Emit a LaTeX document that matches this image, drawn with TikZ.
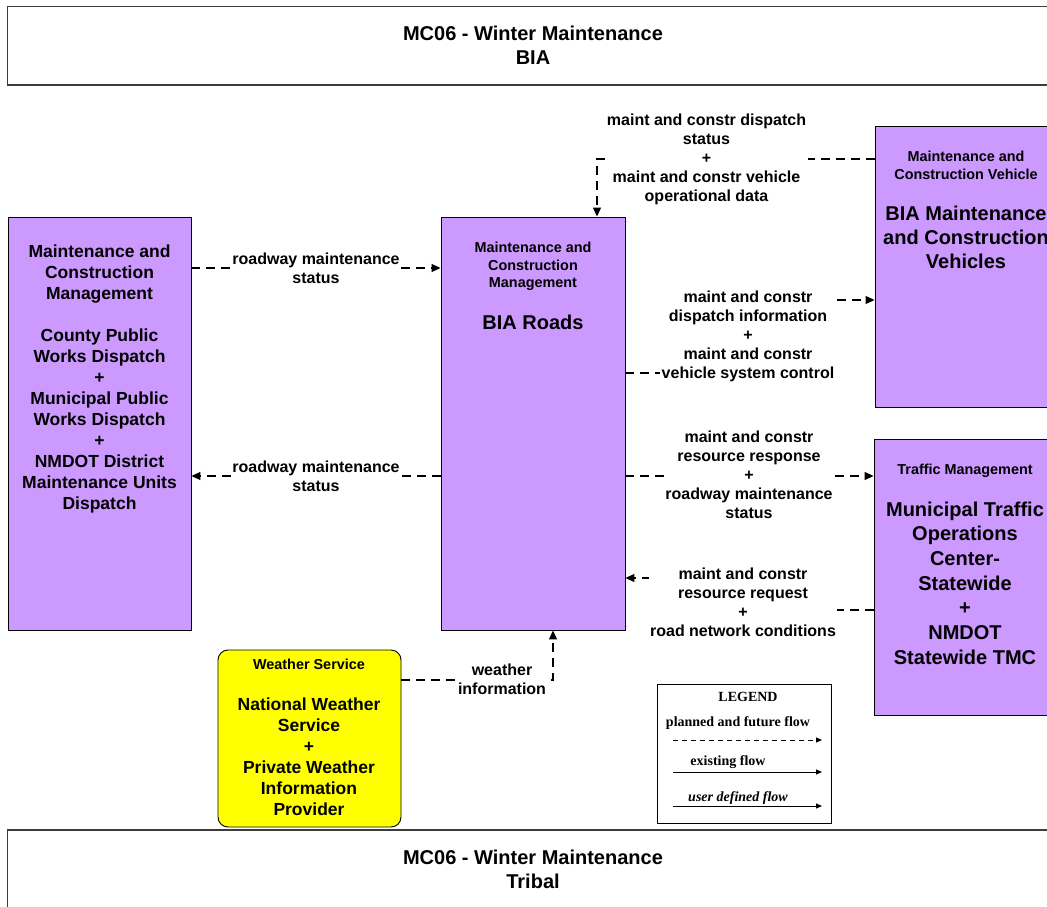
\documentclass[tikz,border=0pt]{standalone}
\usepackage{fontspec}
\setmainfont{Liberation Sans}
\newfontfamily\legendfont{Liberation Serif}
\usetikzlibrary{arrows.meta}
\definecolor{boxpurple}{RGB}{204,153,255}
\definecolor{wxyellow}{RGB}{255,255,0}
\definecolor{framegray}{RGB}{60,60,60}
\tikzset{
  every node/.style={font=\bfseries},
  titlebox/.style={draw=framegray, line width=1.2pt, fill=white, inner sep=0pt},
  elembox/.style={draw=black, line width=0.9pt, fill=boxpurple, inner sep=0pt},
  wxbox/.style={draw=black, line width=0.9pt, fill=wxyellow, rounded corners=10pt, inner sep=0pt},
  legbox/.style={draw=black, line width=1pt, fill=white, inner sep=0pt},
  flow/.style={line width=1.2pt, dash pattern=on 9pt off 6pt, -{Triangle[length=9pt,width=8pt]}},
  flowlabel/.style={fill=white, inner sep=1.5pt, align=center, font=\fontsize{16}{19}\selectfont\bfseries},
  hdr/.style={align=center, font=\fontsize{14.4}{17.5}\selectfont\bfseries},
  bigtxt/.style={align=center, font=\fontsize{20}{24}\selectfont\bfseries},
  midtxt/.style={align=center, font=\fontsize{17.5}{21}\selectfont\bfseries},
  legtxt/.style={font=\legendfont\fontsize{14}{16}\selectfont\bfseries},
  legflowd/.style={line width=1pt, dash pattern=on 5pt off 4pt, -{Triangle[length=6pt,width=5pt]}},
  legflow/.style={line width=1pt, -{Triangle[length=6pt,width=5pt]}}
}
\begin{document}
\begin{tikzpicture}[x=1pt,y=-1pt]
\useasboundingbox (0,0) rectangle (1047,907);
\clip (0,0) rectangle (1047,907);

% frames
\node[titlebox, minimum width=1051pt, minimum height=78.5pt] (top) at (533,45.75) {};
\node[bigtxt] (toptxt) at (533,45) {MC06 - Winter Maintenance\\BIA};
\node[titlebox, minimum width=1051pt, minimum height=80pt] (bot) at (533,870) {};
\node[bigtxt] (bottxt) at (533,869) {MC06 - Winter Maintenance\\Tribal};

% element boxes
\node[elembox, minimum width=183pt, minimum height=413pt] (left) at (99.5,423.5) {};
\node[midtxt] (lefttxt) at (99.5,379) {Maintenance and\\Construction\\Management\\[21pt]County Public\\Works Dispatch\\+\\Municipal Public\\Works Dispatch\\+\\NMDOT District\\Maintenance Units\\Dispatch};

\node[elembox, minimum width=184pt, minimum height=413pt] (bia) at (533,423.5) {};
\node[hdr] (biahdr) at (533,266.5) {Maintenance and\\Construction\\Management};
\node[bigtxt] (biatxt) at (533,322) {BIA Roads};

\node[elembox, minimum width=183pt, minimum height=281pt] (veh) at (966.5,266.5) {};
\node[hdr] (vehhdr) at (966,165.5) {Maintenance and\\Construction Vehicle};
\node[bigtxt] (vehtxt) at (966,237) {BIA Maintenance\\and Construction\\Vehicles};

\node[elembox, minimum width=183pt, minimum height=276pt] (tmc) at (965.5,577) {};
\node[hdr] (tmchdr) at (965,471) {Traffic Management};
\node[align=center, font=\fontsize{20}{24.7}\selectfont\bfseries] (tmctxt) at (965,583) {Municipal Traffic\\Operations\\Center-\\Statewide\\+\\NMDOT\\Statewide TMC};

\node[wxbox, minimum width=183pt, minimum height=177pt] (wx) at (309.5,738.5) {};
\node[hdr] (wxhdr) at (309,664) {Weather Service};
\node[midtxt] (wxtxt) at (309,756.5) {National Weather\\Service\\+\\Private Weather\\Information\\Provider};

% helper coordinates
\coordinate (c1) at (0,268);
\coordinate (c2) at (0,476);
\coordinate (c3) at (597,159);
\coordinate (c4a) at (748,373);
\coordinate (c4b) at (748,300);
\coordinate (c5) at (0,476);
\coordinate (c6a) at (743,610);
\coordinate (c6b) at (743,578);
\coordinate (c7) at (553,680);

% connectors
\draw[flow] (left.east |- c1) -- (bia.west |- c1);
\draw[flow] (bia.west |- c2) -- (left.east |- c2);
\draw[flow] (veh.west |- c3) -- (c3) -- (c3 |- bia.north);
\draw[flow] (bia.east |- c4a) -- (c4a) -- (c4b) -- (veh.west |- c4b);
\draw[flow] (bia.east |- c5) -- (tmc.west |- c5);
\draw[flow] (tmc.west |- c6a) -- (c6a) -- (c6b) -- (bia.east |- c6b);
\draw[flow] (wx.east |- c7) -- (c7) -- (c7 |- bia.south);

% connector labels
\node[flowlabel] (l1) at (316,268) {roadway maintenance\\status};
\node[flowlabel] (l2) at (316,476) {roadway maintenance\\status};
\node[flowlabel] (l3) at (706.5,159.5) {maint and constr dispatch\\status\\+\\maint and constr vehicle\\operational data};
\node[flowlabel] (l4) at (748,336.5) {maint and constr\\dispatch information\\+\\maint and constr\\vehicle system control};
\node[flowlabel] (l5) at (749,474.5) {maint and constr\\resource response\\+\\roadway maintenance\\status};
\node[flowlabel] (l6) at (743,602) {maint and constr\\resource request\\+\\road network conditions};
\node[flowlabel] (l7) at (502,679) {weather\\information};

% legend
\node[legbox, minimum width=174pt, minimum height=139pt] (leg) at (744,753.5) {};
\node[legtxt] (legt) at (748,697) {LEGEND};
\node[legtxt] (leg1) at (738,723) {planned and future flow};
\node[legtxt] (leg2) at (728,762) {existing flow};
\node[legtxt, font=\legendfont\fontsize{14}{16}\selectfont\bfseries\itshape] (leg3) at (738,798) {user defined flow};
\coordinate (la1) at (673,740); \coordinate (lb1) at (822,740);
\coordinate (la2) at (673,772); \coordinate (lb2) at (822,772);
\coordinate (la3) at (673,806); \coordinate (lb3) at (822,806);
\draw[legflowd] (la1) -- (lb1);
\draw[legflow] (la2) -- (lb2);
\draw[legflow] (la3) -- (lb3);
\end{tikzpicture}
\end{document}
